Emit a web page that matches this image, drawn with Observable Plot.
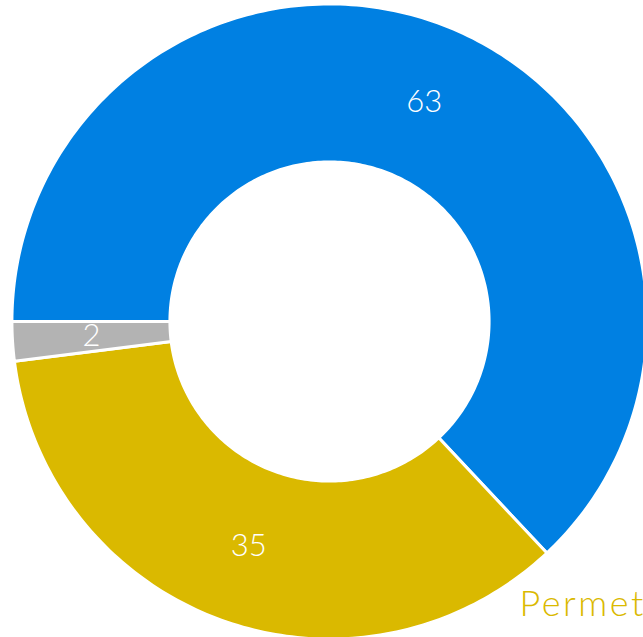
<!DOCTYPE html>
<html>
<head>
<meta charset="utf-8">
<script src="https://cdn.jsdelivr.net/npm/d3@7"></script>
<script src="https://cdn.jsdelivr.net/npm/@observablehq/plot@0.6"></script>
<style>
  html, body { margin: 0; padding: 0; background: #fff; overflow: hidden; }
</style>
</head>
<body>
<div id="chart"></div>
<script>
// Data
const categories = ["A", "Permet", "C"];
const values = [63, 35, 2];
const colors = ["#0080E2", "#DAB900", "#B3B3B3"];
const legendLabel = "Permet";

// Geometry in data units (outer radius = 1)
const outerR = 1.005;
const innerR = 0.505;
const startDeg = -90; // 9 o'clock, clockwise

const total = d3.sum(values);
const slices = [];
let acc = startDeg;
values.forEach((v, i) => {
  const span = v / total * 360;
  slices.push({cat: categories[i], value: v, color: colors[i], a0: acc, a1: acc + span});
  acc += span;
});

const rad = d => d * Math.PI / 180;
const pts = [];
slices.forEach(s => {
  const n = Math.max(4, Math.ceil(s.a1 - s.a0));
  for (let k = 0; k <= n; k++) {
    const a = rad(s.a0 + (s.a1 - s.a0) * k / n);
    pts.push({cat: s.cat, color: s.color, x: outerR * Math.sin(a), y: outerR * Math.cos(a)});
  }
  for (let k = n; k >= 0; k--) {
    const a = rad(s.a0 + (s.a1 - s.a0) * k / n);
    pts.push({cat: s.cat, color: s.color, x: innerR * Math.sin(a), y: innerR * Math.cos(a)});
  }
});

const midR = (outerR + innerR) / 2;
const labels = slices.map(s => {
  const a = rad((s.a0 + s.a1) / 2);
  return {text: String(s.value), x: midR * Math.sin(a), y: midR * Math.cos(a)};
});

const W = 643, H = 637;
const cx = 329, cy = 321, R = 316;

const chart = Plot.plot({
  width: W,
  height: H,
  margin: 0,
  style: {fontFamily: "Lato, sans-serif", background: "#fff"},
  x: {domain: [-cx / R, (W - cx) / R], range: [0, W], axis: null},
  y: {domain: [-(H - cy) / R, cy / R], range: [H, 0], axis: null},
  color: {type: "identity"},
  marks: [
    Plot.line(pts, {x: "x", y: "y", z: "cat", fill: "color", stroke: "white", strokeWidth: 3, curve: "linear-closed"}),
    Plot.text(labels, {x: "x", y: "y", text: "text", fill: "white", fontSize: 31, fontWeight: 300}),
    Plot.text([legendLabel], {x: [190 / R], y: [-283 / R], text: d => d, fill: colors[1], fontSize: 36, fontWeight: 300, textAnchor: "start"})
  ]
});
d3.select(chart).selectAll("text").filter(function() { return this.textContent === legendLabel; })
  .attr("letter-spacing", "2.5px");
document.getElementById("chart").appendChild(chart);
</script>
</body>
</html>
